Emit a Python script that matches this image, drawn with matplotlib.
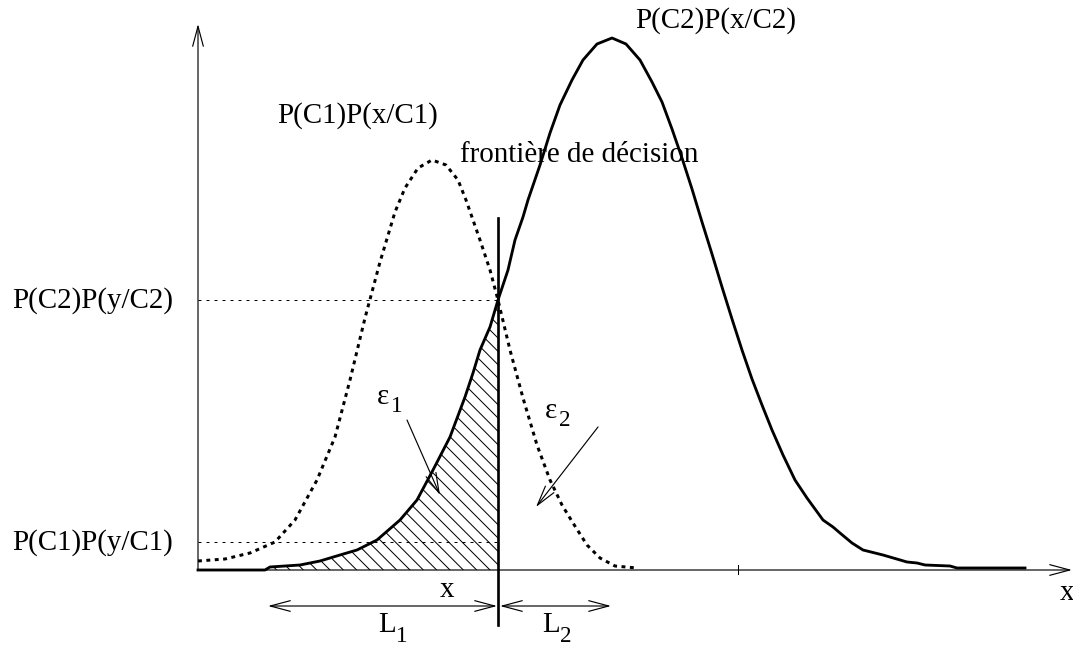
import matplotlib
matplotlib.use("Agg")
import matplotlib.pyplot as plt
import numpy as np

plt.rcParams['font.family'] = ['Liberation Serif', 'DejaVu Serif']
plt.rcParams['hatch.linewidth'] = 0.6

# density curves (x along axis, y height above axis)
c1_x = [0, 27, 52, 77, 97, 119, 137, 152, 167, 182, 197, 207, 220, 234, 248, 260,
        268, 282, 292, 300, 312, 325, 339, 352, 364, 375, 389, 402, 417, 439]
c1_y = [9, 11, 17, 28, 50, 90, 133, 190, 252, 308, 358, 382, 402, 410, 405, 390,
        370, 330, 300, 270, 220, 172, 125, 90, 65, 47, 25, 12, 4, 2]

c2_x = [0, 67, 72, 102, 122, 142, 159, 179, 202, 219, 235, 252, 267, 275, 282, 292,
        300, 310, 317, 325, 330, 342, 352, 362, 374, 385, 399, 414, 428, 442, 454,
        464, 474, 484, 494, 504, 514, 524, 534, 544, 554, 564, 574, 585, 597, 609,
        625, 635, 642, 654, 665, 685, 709, 719, 727, 752, 759, 827]
c2_y = [0, 0, 3, 5, 9, 15, 20, 30, 50, 70, 100, 133, 173, 197, 220, 243,
        270, 300, 330, 353, 370, 405, 437, 465, 490, 510, 526, 532, 526, 510, 488,
        468, 441, 412, 381, 348, 316, 283, 251, 220, 191, 165, 140, 115, 90, 72,
        50, 43, 37, 27, 20, 15, 8, 7, 5, 4, 2, 2]

boundary = 300      # frontière de décision
level_c2 = 270      # P(C2)P(y/C2)
level_c1 = 28       # P(C1)P(y/C1)
tick_x = 540

fs = 17.4

fig = plt.figure(figsize=(1073 / 120, 646 / 120), dpi=120)
ax = fig.add_axes([0, 0, 1, 1])
ax.set_xlim(-198, 875)
ax.set_ylim(-76, 570)
ax.axis('off')

# hatched error area under C2 left of the boundary
c2x = np.array(c2_x)
c2y = np.array(c2_y)
mask = c2x <= boundary
hx = np.append(c2x[mask], boundary)
hy = np.append(c2y[mask], 0)
ax.fill(np.append(hx, 0), np.append(hy, 0), facecolor='none', edgecolor='black',
        hatch='\\\\\\', linewidth=0)

ax.plot(c1_x, c1_y, color='black', lw=1.8, ls=(0, (1.3, 1.5)))
ax.plot(c2_x, c2_y, color='black', lw=1.7)

ax.plot([0, boundary], [level_c2, level_c2], color='black', lw=0.6, ls=(0, (3, 5)))
ax.plot([0, boundary], [level_c1, level_c1], color='black', lw=0.6, ls=(0, (3, 5)))
ax.plot([boundary, boundary], [-55, 352], color='black', lw=1.6)
ax.plot([tick_x, tick_x], [-4, 5], color='black', lw=0.6)

def arrow(p0, p1, style='->'):
    ax.annotate('', xy=p1, xytext=p0,
                arrowprops=dict(arrowstyle=style + ',head_length=0.6,head_width=0.16',
                                mutation_scale=20, lw=0.7, color='black',
                                shrinkA=0, shrinkB=0))

arrow((0, 0), (0, 546))
arrow((0, 0), (874, 0))
arrow((70, -36), (299, -36), '<->')
arrow((302, -36), (413, -36), '<->')
arrow((209, 150), (242, 75))
arrow((400, 143), (338, 63))

txt = dict(fontsize=fs, ha='left', va='baseline')
sub = dict(fontsize=fs * 0.8, ha='left', va='baseline')
ax.text(79, 447, 'P(C1)P(x/C1)', **txt)
ax.text(437, 542, 'P(C2)P(x/C2)', **txt)
ax.text(262, 408, 'frontière de décision', **txt)
ax.text(-186, 262, 'P(C2)P(y/C2)', **txt)
ax.text(-186, 20, 'P(C1)P(y/C1)', **txt)
ax.text(242, -27, 'x', **txt)
ax.text(862, -30, 'x', **txt)
ax.text(180, -62, 'L', **txt)
ax.text(198, -72, '1', **sub)
ax.text(344, -62, 'L', **txt)
ax.text(362, -72, '2', **sub)
ax.text(179, 166, 'ε', **txt)
ax.text(193, 158, '1', **sub)
ax.text(347, 152, 'ε', **txt)
ax.text(361, 144, '2', **sub)

fig.savefig('out.png', dpi=120)
